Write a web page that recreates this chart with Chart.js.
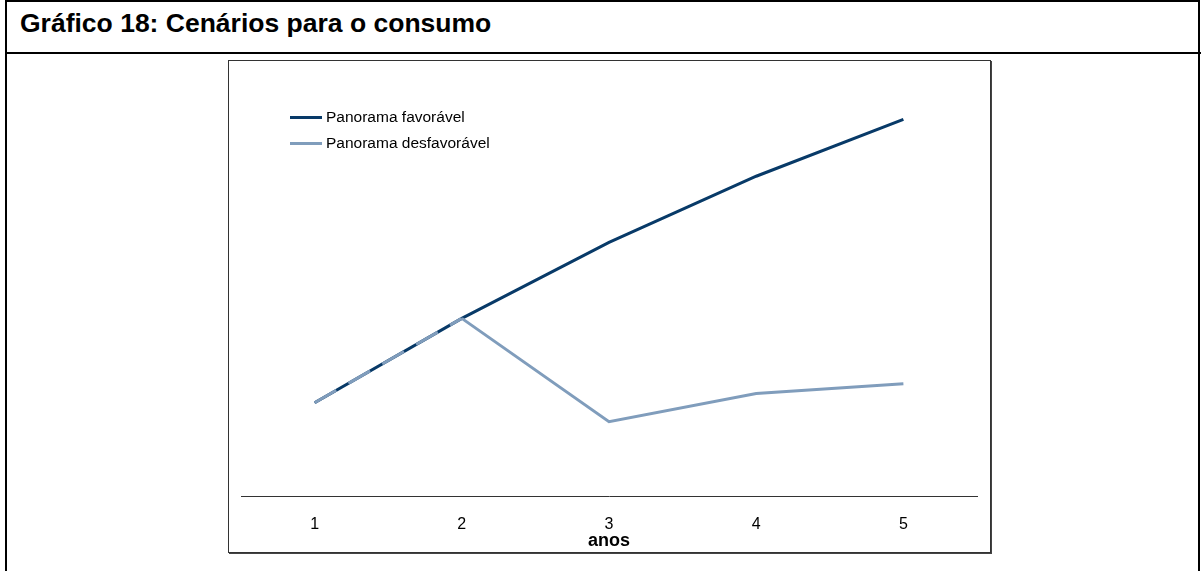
<!DOCTYPE html>
<html>
<head>
<meta charset="utf-8">
<script src="https://cdn.jsdelivr.net/npm/chart.js@4"></script>
<style>
  body{margin:0;background:#fff;font-family:Arial,"Liberation Sans",sans-serif;}
  #frame{position:absolute;left:5px;top:0;width:1195px;height:580px;border:2px solid #000;border-bottom:none;box-sizing:border-box;}
  #titulo{position:absolute;left:20px;top:8px;font-weight:bold;font-size:26.5px;color:#000;white-space:nowrap;}
  #sep{position:absolute;left:6px;top:52px;width:1195px;height:2px;background:#000;}
  #box{position:absolute;left:228px;top:60px;width:763px;height:493px;border:1px solid #333;box-shadow:1px 1px 0 #444;box-sizing:border-box;}
  #wrap{position:absolute;left:0;top:0;width:761px;height:491px;}
  #legenda{position:absolute;left:290px;top:104px;font-size:15.5px;color:#000;}
  .item{height:26px;display:flex;align-items:center;white-space:nowrap;}
  .item span.l{display:inline-block;width:32px;height:3px;margin-right:4px;}
</style>
</head>
<body>
<div id="frame"></div>
<div id="titulo">Gráfico 18: Cenários para o consumo</div>
<div id="sep"></div>
<div id="box"><div id="wrap"><canvas id="grafico"></canvas></div></div>
<div id="legenda"></div>
<script>
const anos = ['1', '2', '3', '4', '5'];
const favoravel = [22.3, 42.3, 60.3, 76.0, 89.5];
const desfavoravel = [22.3, 42.3, 17.8, 24.5, 26.8];

const corEscura = 'rgb(8,58,104)';
const corClara = 'rgb(128,157,188)';

const data = {
  labels: anos,
  datasets: [{
    label: 'Panorama favorável',
    data: favoravel,
    borderColor: corEscura,
    backgroundColor: corEscura,
    borderWidth: 3,
    pointRadius: 0,
    tension: 0,
    order: 1
  }, {
    label: 'Panorama desfavorável',
    data: desfavoravel,
    borderColor: corClara,
    backgroundColor: corClara,
    borderWidth: 3,
    pointRadius: 0,
    tension: 0,
    order: 0,
    segment: {
      borderDash: ctx => ctx.p0DataIndex === 0 ? [25, 14] : undefined
    }
  }]
};

const config = {
  type: 'line',
  data: data,
  options: {
    responsive: true,
    maintainAspectRatio: false,
    animation: false,
    layout: { padding: { left: 12, right: 13, top: 14, bottom: 2 } },
    plugins: {
      legend: { display: false },
      tooltip: { enabled: false }
    },
    scales: {
      x: {
        offset: true,
        grid: { display: false, drawTicks: false },
        border: { display: true, color: '#333', width: 1 },
        ticks: { color: '#000', padding: 18, font: { family: 'Arial', size: 16 } },
        title: {
          display: true,
          text: 'anos',
          color: '#000',
          padding: { top: -20, bottom: 0 },
          font: { family: 'Arial', size: 18, weight: 'bold', lineHeight: 1 }
        }
      },
      y: { display: false, min: 0, max: 100 }
    }
  }
};

const myChart = new Chart(document.getElementById('grafico'), config);

// legenda em html
const leg = document.getElementById('legenda');
myChart.data.datasets.forEach(ds => {
  const d = document.createElement('div');
  d.className = 'item';
  d.innerHTML = '<span class="l" style="background:' + ds.borderColor + '"></span>' + ds.label;
  leg.appendChild(d);
});
</script>
</body>
</html>
